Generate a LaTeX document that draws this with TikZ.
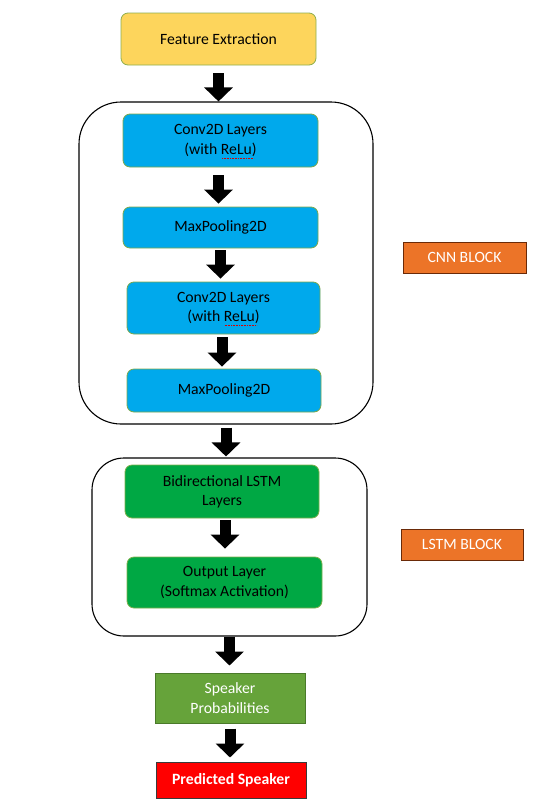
\documentclass[tikz,border=0pt]{standalone}
\usepackage{fontspec}
\setmainfont{Carlito}
\usetikzlibrary{arrows.meta}
\definecolor{feFill}{HTML}{FDD55C}
\definecolor{feDraw}{HTML}{8DAE4E}
\definecolor{cnnFill}{HTML}{00A9EC}
\definecolor{cnnDraw}{HTML}{7DA84C}
\definecolor{lstmFill}{HTML}{00A844}
\definecolor{lstmDraw}{HTML}{7DB04C}
\definecolor{probFill}{HTML}{66A33A}
\definecolor{probDraw}{HTML}{4A7A2A}
\definecolor{predFill}{HTML}{FF0000}
\definecolor{predDraw}{HTML}{3A3A3A}
\definecolor{tagFill}{HTML}{EC7428}
\definecolor{tagDraw}{HTML}{6A2A08}
\tikzset{
  box/.style={rectangle, rounded corners=7pt, inner sep=0pt, align=center, line width=0.8pt,
    font=\fontsize{15.7}{19.2}\selectfont},
  febox/.style={box, fill=feFill, draw=feDraw},
  cnnbox/.style={box, fill=cnnFill, draw=cnnDraw},
  lstmbox/.style={box, fill=lstmFill, draw=lstmDraw},
  sqbox/.style={box, rounded corners=0pt, line width=1pt, text=white},
  tagbox/.style={sqbox, fill=tagFill, draw=tagDraw},
  container/.style={rectangle, draw=black, line width=1.1pt, inner sep=0pt},
  bigarrow/.style={line width=11pt, -{Triangle[width=28pt,length=14pt]}, black},
  spell/.style={draw=red!85!black, line width=0.6pt, dash pattern=on 0.8pt off 0.8pt},
}
\begin{document}
\begin{tikzpicture}[x=1pt,y=-1pt]
\useasboundingbox (0,0) rectangle (539,812);
% containers
\node[container, rounded corners=42pt, minimum width=294pt, minimum height=322pt] (cnn) at (226,263) {};
\node[container, rounded corners=32pt, minimum width=275pt, minimum height=178pt] (lstm) at (229.5,547) {};
% boxes
\node[febox, minimum width=195pt, minimum height=52pt] (fe) at (218.5,39) {Feature Extraction};
\node[cnnbox, minimum width=195pt, minimum height=53pt] (conv1) at (220.5,140.5) {Conv2D Layers\\(with ReLu)};
\node[cnnbox, minimum width=195pt, minimum height=41pt] (mp1) at (220.5,227.5) {MaxPooling2D};
\node[cnnbox, minimum width=193pt, minimum height=52pt] (conv2) at (223.5,308) {Conv2D Layers\\(with ReLu)};
\node[cnnbox, minimum width=194pt, minimum height=43pt] (mp2) at (224,390.5) {MaxPooling2D};
\node[lstmbox, minimum width=194pt, minimum height=53pt] (bilstm) at (222,491.5) {Bidirectional LSTM\\Layers};
\node[lstmbox, minimum width=195pt, minimum height=51pt] (out) at (224.5,582.5) {Output Layer\\(Softmax Activation)};
\node[sqbox, fill=probFill, draw=probDraw, minimum width=150pt, minimum height=50pt] (prob) at (230,698) {Speaker\\Probabilities};
\node[sqbox, fill=predFill, draw=predDraw, minimum width=150pt, minimum height=36pt, font=\fontsize{15.7}{19.2}\selectfont\bfseries] (pred) at (231,780) {Predicted Speaker};
\node[tagbox, minimum width=123pt, minimum height=31pt] (cnntag) at (464.5,257.5) {CNN BLOCK};
\node[tagbox, minimum width=122pt, minimum height=31pt] (lstmtag) at (462,544.5) {LSTM BLOCK};
% spell-check marks under ReLu
\draw[spell] ([xshift=1.5pt,yshift=-17.5pt]conv1.center) -- ++(32,0);
\draw[spell] ([xshift=1pt,yshift=-17.5pt]conv2.center) -- ++(32,0);
% arrows
\draw[bigarrow, shorten <=8pt] (fe.south) -- (fe.south |- cnn.north);
\draw[bigarrow, shorten <=8pt, shorten >=3pt] (conv1.south) ++(-2,0) coordinate (a2) -- (a2 |- mp1.north);
\draw[bigarrow, shorten <=2pt, shorten >=3pt] (mp1.south) -- (mp1.south |- conv2.north);
\draw[bigarrow, shorten <=3pt, shorten >=2pt] (conv2.south) ++(-1.5,0) coordinate (a4) -- (a4 |- mp2.north);
\draw[bigarrow, shorten <=3pt, shorten >=1pt] (cnn.south) -- (cnn.south |- lstm.north);
\draw[bigarrow, shorten <=2pt, shorten >=8pt] (bilstm.south) ++(3,0) coordinate (a6) -- (a6 |- out.north);
\draw[bigarrow, shorten >=7pt] (lstm.south) -- (lstm.south |- prob.north);
\draw[bigarrow, shorten <=5pt, shorten >=4pt] (prob.south) -- (prob.south |- pred.north);
\end{tikzpicture}
\end{document}
